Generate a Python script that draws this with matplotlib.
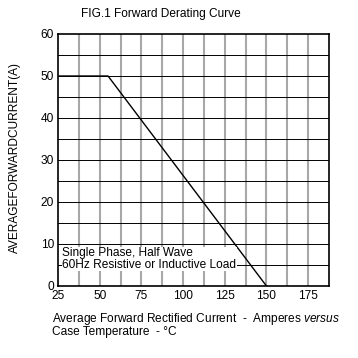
import matplotlib.pyplot as plt
import numpy as np

plt.rcParams['font.family'] = ['Liberation Sans', 'DejaVu Sans']
plt.rcParams['mathtext.fontset'] = 'custom'
plt.rcParams['mathtext.rm'] = 'Liberation Sans'
plt.rcParams['mathtext.it'] = 'Liberation Sans:italic'

# derating curve
temp = [25, 55, 150]
current = [50, 50, 0]

xticks = [25, 50, 75, 100, 125, 150, 175]
yticks = [0, 10, 20, 30, 40, 50, 60]

fs = 8.6

fig = plt.figure(figsize=(3.58, 3.58), dpi=100)
ax = fig.add_axes([58/358, 1 - 286/358, 271/358, 252/358])

ax.set_xlim(25, 187.5)
ax.set_ylim(0, 60)

# grid
for x in np.arange(37.5, 187.5, 12.5):
    ax.axvline(x, color='#a8a8a8', lw=1.5, zorder=1)
for y in np.arange(5, 60, 5):
    ax.axhline(y, color='black', lw=0.7, zorder=2)

ax.plot(temp, current, color='black', lw=1.0, zorder=3)

ax.set_xticks(xticks)
ax.set_yticks(yticks)
ax.tick_params(length=0, labelsize=fs, pad=3)
for s in ax.spines.values():
    s.set_linewidth(1.2)

ax.text(27.5, 3.6, "Single Phase, Half Wave\n60Hz Resistive or Inductive Load",
        fontsize=fs, va='bottom', ha='left', linespacing=0.95, zorder=4,
        bbox=dict(facecolor='white', edgecolor='none', pad=0.3))

fig.text(15/358, 1 - 158/358, "AVERAGEFORWARDCURRENT(A)", rotation=90,
         ha='center', va='center', fontsize=fs)
fig.text(161/358, 1 - 14/358, "FIG.1 Forward Derating Curve",
         ha='center', va='center', fontsize=fs)
fig.text(52/358, 1 - 319/358,
         r"Average Forward Rectified Current  -  Amperes $\it{versus}$",
         ha='left', va='center', fontsize=fs)
fig.text(52/358, 1 - 332/358, "Case Temperature  - \u00b0C",
         ha='left', va='center', fontsize=fs)

fig.savefig('out.png', dpi=100)
